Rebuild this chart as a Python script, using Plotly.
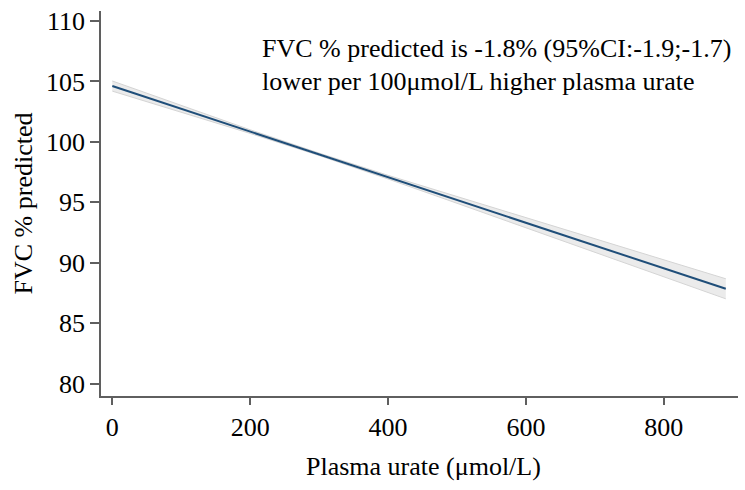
import plotly.graph_objects as go

# Data
urate = [0, 100, 200, 300, 400, 500, 600, 700, 800, 890]
fvc_pred = [104.62, 102.74, 100.85, 98.97, 97.08, 95.20, 93.31, 91.43, 89.54, 87.84]
ci_lower = [104.20, 102.46, 100.70, 98.87, 96.93, 94.92, 92.89, 90.87, 88.84, 87.01]
ci_upper = [105.04, 103.02, 101.00, 99.07, 97.23, 95.48, 93.73, 91.99, 90.24, 88.67]

x_ticks = [0, 200, 400, 600, 800]
y_ticks = [80, 85, 90, 95, 100, 105, 110]

note_line1 = "FVC % predicted is -1.8% (95%CI:-1.9;-1.7)"
note_line2 = "lower per 100\u03bcmol/L higher plasma urate"
x_title = "Plasma urate (\u03bcmol/L)"
y_title = "FVC % predicted"

FONT = "Liberation Serif, Times New Roman, serif"
AX = "#5f5f5f"

fig = go.Figure()
fig.add_trace(go.Scatter(x=urate, y=ci_upper, mode="lines",
                         line=dict(color="#d4d4d4", width=1), showlegend=False, hoverinfo="skip"))
fig.add_trace(go.Scatter(x=urate, y=ci_lower, mode="lines", fill="tonexty",
                         fillcolor="#ebebeb",
                         line=dict(color="#d4d4d4", width=1), showlegend=False, hoverinfo="skip"))
fig.add_trace(go.Scatter(x=urate, y=fvc_pred, mode="lines",
                         line=dict(color="#1f4e79", width=2), showlegend=False))

fig.update_layout(
    width=745, height=490,
    margin=dict(l=101, r=7, t=11, b=94),
    paper_bgcolor="white", plot_bgcolor="white",
    font=dict(family=FONT, size=26, color="black"),
    xaxis=dict(range=[-16.4, 907.7], tickvals=x_ticks, showgrid=False, zeroline=False,
               showline=True, linecolor=AX, linewidth=1.5, ticks="outside", ticklen=7,
               tickcolor=AX, tickwidth=1.5, tickfont=dict(family=FONT, size=26, color="black")),
    yaxis=dict(range=[78.97, 110.83], tickvals=y_ticks, showgrid=False, zeroline=False,
               showline=True, linecolor=AX, linewidth=1.5, ticks="outside", ticklen=9,
               tickcolor=AX, tickwidth=1.5, tickfont=dict(family=FONT, size=26, color="black")),
    annotations=[
        dict(text=note_line1, x=213.8, y=107.76, xref="x", yref="y", xanchor="left",
             yanchor="middle", showarrow=False, font=dict(family=FONT, size=26, color="black")),
        dict(text=note_line2, x=213.8, y=105.03, xref="x", yref="y", xanchor="left",
             yanchor="middle", showarrow=False, font=dict(family=FONT, size=26, color="black")),
        dict(text=x_title, x=0.5055, y=-0.1844, xref="paper", yref="paper", xanchor="center",
             yanchor="middle", showarrow=False, font=dict(family=FONT, size=26, color="black")),
        dict(text=y_title, x=-0.1209, y=0.5, xref="paper", yref="paper", xanchor="center",
             yanchor="middle", textangle=-90, showarrow=False,
             font=dict(family=FONT, size=26, color="black")),
    ],
)

fig.write_html("out.html", config={"displayModeBar": False},
               post_script="document.body.style.margin='0';")
